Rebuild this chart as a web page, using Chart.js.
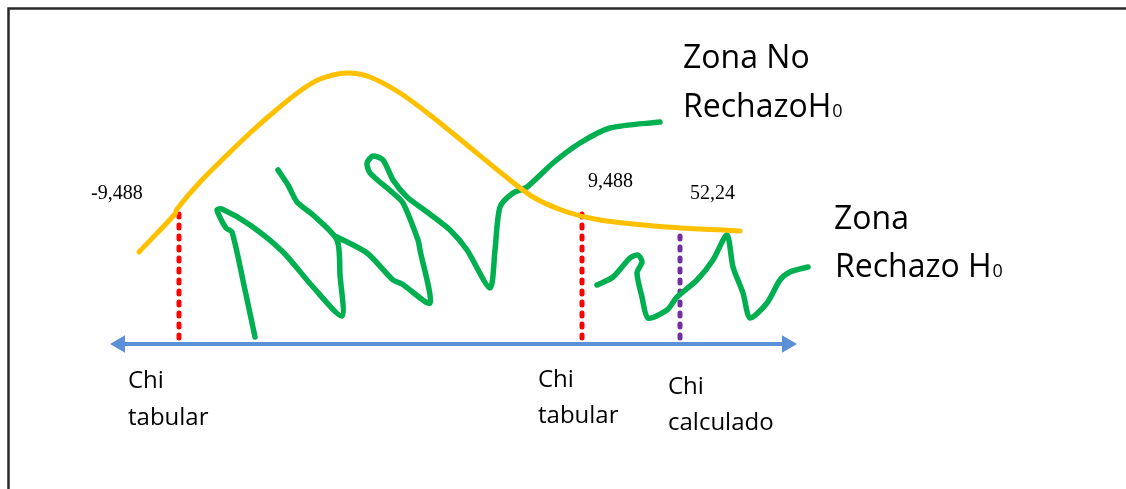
<!DOCTYPE html>
<html>
<head>
<meta charset="utf-8">
<script src="https://cdn.jsdelivr.net/npm/chart.js@4.4.1/dist/chart.umd.min.js"></script>
<style>
  html, body { margin: 0; padding: 0; background: #fff; }
  canvas { display: block; }
</style>
</head>
<body>
<canvas id="grafico" width="1126" height="489"></canvas>
<script>
// --- datos (x horizontal, y = altura sobre el eje) ---
const curvaNormal = [[139,93],[175,131],[177,136],[200,163],[225,188],[250,212],[275,234],[300,254],[320,266],[347,272],[370,268],[400,252],[430,230],[467,200],[500,173],[533,148],[567,133],[600,125],[667,118],[740,114]];

const trazo1 = [[255,8],[245,55],[232,113],[226,117],[217,135],[222,136],[250,120],[283,93],[313,58],[342,29],[340,70],[337,105],[313,130],[297,143],[288,160],[278,175]];
const trazo2 = [[337,108],[367,92],[393,65],[402,61],[430,42],[420,95],[418,105],[403,142],[393,152],[370,172],[367,182],[373,189],[383,185],[393,165],[407,148],[427,133],[450,115],[467,95],[490,57],[495,95],[500,138],[513,152],[527,158],[553,182],[580,202],[610,217],[660,223]];
const trazo3 = [[597,60],[613,68],[630,87],[638,90],[642,83],[637,72],[642,48],[648,27],[667,35],[677,48],[697,65],[713,85],[727,110],[733,78],[743,52],[750,27],[767,42],[780,65],[790,73],[808,78]];

const ejeX = [120, 787];
const chiTabular = [179, 582];
const chiCalculado = 680;
const alturaTabular = [132, 131];
const alturaCalculado = 115;
const valoresCriticos = ['-9,488', '9,488', '52,24'];

const pts = arr => arr.map(p => ({ x: p[0], y: p[1] }));

// lineas verticales punteadas
const punteada = (x, top, color) => ({
  data: [{ x: x, y: 7 }, { x: x, y: top }],
  borderColor: color,
  borderWidth: 5,
  borderDash: [3, 8],
  borderCapStyle: 'round',
  pointRadius: 0,
  showLine: true
});

const trazoVerde = arr => ({
  data: pts(arr),
  borderColor: '#00B050',
  borderWidth: 5.5,
  borderCapStyle: 'round',
  borderJoinStyle: 'round',
  tension: 0.25,
  pointRadius: 0,
  showLine: true
});

// textos y marco
const textos = {
  id: 'textos',
  beforeDraw(chart) {
    const ctx = chart.ctx;
    ctx.save();
    ctx.fillStyle = '#fff';
    ctx.fillRect(0, 0, chart.width, chart.height);
    ctx.strokeStyle = '#2a2a2a';
    ctx.lineWidth = 2.5;
    ctx.beginPath();
    ctx.moveTo(8.5, 489);
    ctx.lineTo(8.5, 8.5);
    ctx.lineTo(1126, 8.5);
    ctx.stroke();
    ctx.restore();
  },
  afterDraw(chart) {
    const ctx = chart.ctx;
    ctx.save();
    ctx.fillStyle = '#000';
    ctx.textBaseline = 'alphabetic';
    ctx.textAlign = 'left';

    ctx.font = '20px "Liberation Serif", serif';
    ctx.fillText(valoresCriticos[0], 91, 199);
    ctx.fillText(valoresCriticos[1], 588, 187);
    ctx.fillText(valoresCriticos[2], 690, 199);

    const sans = s => s + 'px "Open Sans", sans-serif';
    const conSub = (txt, x, y) => {
      ctx.font = sans(32);
      ctx.fillText(txt, x, y);
      const w = ctx.measureText(txt).width;
      ctx.font = sans(18);
      ctx.fillText('0', x + w + 1, y);
    };
    ctx.font = sans(32);
    ctx.fillText('Zona No', 683, 68);
    conSub('RechazoH', 683, 117);
    ctx.font = sans(32);
    ctx.fillText('Zona', 834, 229);
    conSub('Rechazo H', 835, 277);

    ctx.font = sans(24);
    ctx.fillText('Chi', 128, 388);
    ctx.fillText('tabular', 128, 425);
    ctx.fillText('Chi', 538, 387);
    ctx.fillText('tabular', 538, 423);
    ctx.fillText('Chi', 668, 394);
    ctx.fillText('calculado', 668, 430);
    ctx.restore();
  }
};

new Chart(document.getElementById('grafico'), {
  type: 'scatter',
  data: {
    datasets: [
      {
        data: pts(curvaNormal),
        borderColor: '#FFC000',
        borderWidth: 5,
        borderCapStyle: 'round',
        tension: 0.3,
        pointRadius: 0,
        showLine: true
      },
      trazoVerde(trazo1),
      trazoVerde(trazo2),
      trazoVerde(trazo3),
      punteada(chiTabular[0], alturaTabular[0], '#FF0000'),
      punteada(chiTabular[1], alturaTabular[1], '#FF0000'),
      punteada(chiCalculado, alturaCalculado, '#7030A0'),
      {
        data: [{ x: ejeX[0], y: 1 }, { x: ejeX[1], y: 1 }],
        borderColor: '#5B8FD6',
        backgroundColor: '#5B8FD6',
        borderWidth: 4,
        showLine: true,
        pointStyle: 'triangle',
        pointRadius: 10,
        pointBorderWidth: 0,
        pointRotation: [-90, 90]
      }
    ]
  },
  options: {
    responsive: false,
    animation: false,
    devicePixelRatio: 1,
    layout: { padding: 0, autoPadding: false },
    plugins: { legend: { display: false }, tooltip: { enabled: false } },
    scales: {
      x: { type: 'linear', min: 0, max: 1126, display: false },
      y: { type: 'linear', min: -144, max: 345, display: false }
    }
  },
  plugins: [textos]
});
</script>
</body>
</html>
